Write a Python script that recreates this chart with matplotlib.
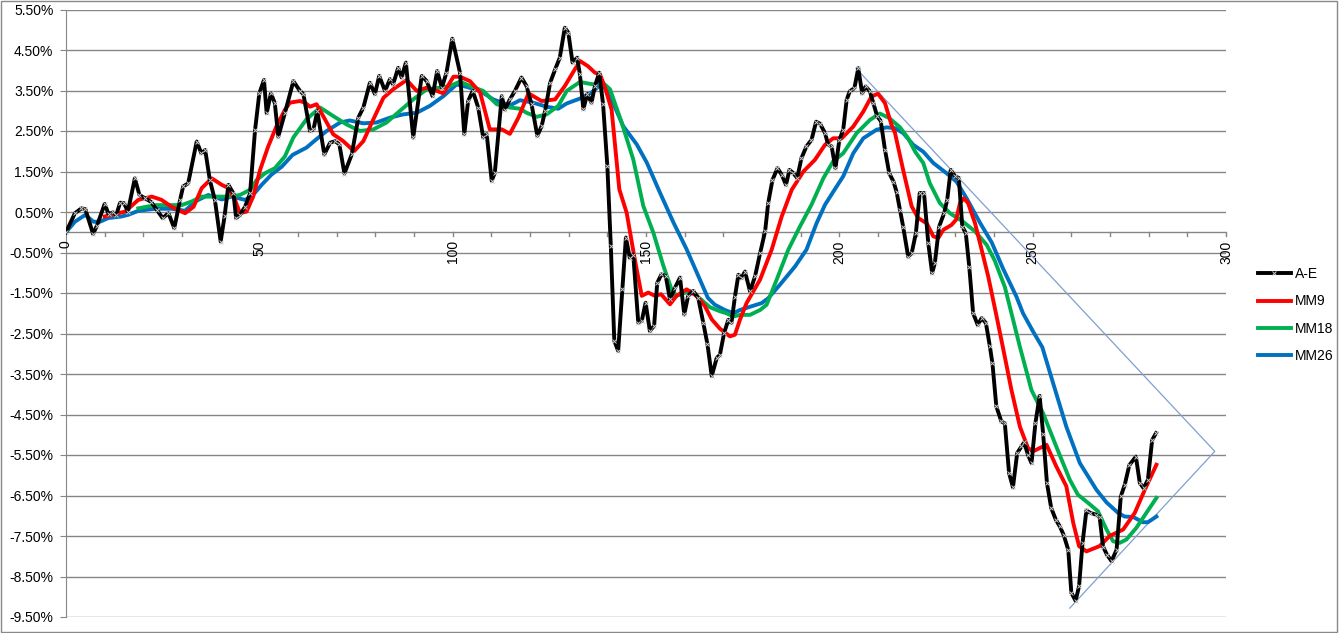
import matplotlib
matplotlib.use("Agg")
import matplotlib.pyplot as plt
from matplotlib.lines import Line2D
from matplotlib.patches import Rectangle
import numpy as np

plt.rcParams['font.family'] = ['Liberation Sans', 'DejaVu Sans']

# A-E series, vertices (x index, value in %)
ae_x = [0, 2.3, 4, 5, 7, 8, 10, 11, 12.2, 13, 14, 15, 16, 17.8, 19, 20.4, 22, 23.5, 25, 26.5,
        28, 29.5, 30.3, 31.6, 33.8, 35, 36, 37.2, 38.5, 40, 41, 42, 43.3, 44, 45, 46.3, 47.6,
        48.9, 50, 51.2, 51.9, 53, 54, 54.9, 56.6, 58.8, 60.5, 61.4, 63.1, 64, 65, 66.8, 68.3,
        69.6, 70.7, 72, 73.9, 75.6, 76.9, 78.6, 79.9, 81, 82.5, 83.8, 84.6, 85.9, 86.8, 87.9,
        89.8, 92, 93.3, 94.8, 96, 97.2, 98.4, 99.9, 101.9, 103, 104, 105.2, 106.6, 107.9, 108.8,
        110.1, 110.9, 112.7, 113.5, 114.8, 116.1, 117.8, 119.1, 120.4, 121.9, 123, 123.9, 125.2,
        126.5, 127.7, 129, 129.9, 131, 132.2, 132.9, 133.8, 134.8, 135.9, 136.8, 137.9, 138.9,
        140, 140.9, 141.8, 142.8, 143.9, 144.8, 145.8, 146.7, 148, 148.9, 149.9, 151, 152.1,
        152.9, 154, 155.1, 156.2, 157.5, 158.8, 159.9, 160.9, 162.2, 163.5, 164.8, 165.9, 167,
        168.3, 169.1, 170.2, 171.3, 172.1, 173, 173.9, 174.7, 175.6, 176.9, 178.2, 179.5, 180.8,
        181.6, 182.7, 184, 185.1, 186.2, 187.1, 188.1, 189.1, 190.2, 191.5, 192.8, 194, 195,
        196.3, 197.1, 198, 199, 200, 201, 201.9, 202.7, 203.9, 204.9, 205.9, 206.8, 207.9, 208.8,
        209.8, 210.7, 211.8, 212.9, 214, 214.8, 215.7, 216.5, 217.8, 218.7, 219.8, 220.8, 221.9,
        223, 224, 224.7, 225.8, 227.1, 227.9, 228.8, 229.9, 230.9, 231.8, 232.7, 233.6, 234.6,
        235.8, 236.8, 237.9, 238.9, 239.6, 240.6, 241.9, 242.8, 243.9, 244.9, 246, 247.1, 247.8,
        248.8, 249.7, 250.7, 251.8, 252.7, 253.7, 254.8, 256, 257, 258, 259.2, 260, 261.1, 262,
        262.9, 263.9, 264.9, 266.3, 267.3, 268.2, 269.2, 270.4, 271.7, 272.8, 273.8, 275, 276.7,
        277.7, 278.7, 279.8, 280.9, 281.9]
ae_y = [0, 0.47, 0.59, 0.57, -0.04, 0.16, 0.70, 0.45, 0.49, 0.43, 0.73, 0.72, 0.51, 1.33, 0.92,
        0.84, 0.75, 0.55, 0.35, 0.47, 0.10, 0.80, 1.13, 1.21, 2.24, 1.95, 2.03, 1.29, 0.80, -0.23,
        0.39, 1.17, 0.96, 0.35, 0.43, 0.63, 0.96, 2.53, 3.43, 3.76, 2.94, 3.43, 3.19, 2.36, 2.94,
        3.73, 3.49, 3.41, 2.50, 2.54, 2.99, 1.92, 2.21, 2.25, 2.17, 1.45, 1.92, 2.83, 3.08, 3.69,
        3.41, 3.86, 3.49, 3.78, 3.65, 4.06, 3.82, 4.19, 2.34, 3.86, 3.73, 3.36, 3.98, 3.57, 3.94,
        4.78, 3.94, 2.42, 3.24, 3.49, 3.08, 2.34, 2.42, 1.27, 1.47, 3.36, 3.03, 3.28, 3.49, 3.82,
        3.61, 3.16, 2.38, 2.62, 2.99, 3.69, 4.02, 4.31, 5.05, 4.93, 4.19, 4.31, 3.90, 3.04, 3.41,
        3.20, 3.61, 3.94, 3.16, 1.64, -0.34, -2.68, -2.93, -1.41, -0.13, -0.63, -0.55, -2.23,
        -2.19, -1.74, -2.44, -2.31, -1.25, -1.04, -1.08, -1.66, -1.37, -1.12, -2.03, -1.57, -1.45,
        -1.62, -2.23, -2.77, -3.55, -3.10, -3.03, -2.49, -2.16, -2.24, -1.59, -1.05, -1.13, -0.97,
        -1.46, -1.09, -0.52, 0.02, 0.72, 1.29, 1.58, 1.42, 1.17, 1.54, 1.46, 1.34, 1.83, 2.12,
        2.28, 2.73, 2.68, 2.45, 2.16, 2.12, 1.58, 2.28, 2.53, 3.27, 3.48, 3.56, 4.05, 3.43, 3.60,
        3.48, 3.19, 2.86, 2.75, 2.04, 1.46, 1.25, 1.00, 0.55, 0.14, -0.60, -0.52, -0.02, 0.97,
        0.97, -0.27, -1.01, -0.76, 0.14, 0.47, 0.80, 1.54, 1.38, 1.34, 0.14, -0.02, -0.85, -2.00,
        -2.29, -2.12, -2.24, -2.80, -3.24, -4.30, -4.67, -4.72, -5.95, -6.30, -5.45, -5.29, -5.19,
        -5.50, -5.70, -4.72, -4.04, -4.97, -6.20, -6.81, -7.10, -7.26, -7.47, -7.84, -8.90, -9.10,
        -8.74, -7.67, -6.87, -6.93, -6.97, -7.02, -7.76, -7.96, -8.12, -7.84, -6.52, -6.24, -5.75,
        -5.54, -6.19, -6.32, -6.11, -5.13, -4.96]

mm9_x = [10, 15.3, 18.7, 22.2, 24.7, 27.3, 30.8, 33, 35.1, 37.7, 40.3, 42, 43.7, 45, 46.7, 48.4,
         50.2, 52.3, 54.4, 56.6, 57.9, 60.5, 61.8, 63.1, 64.8, 66.5, 69.1, 71.7, 74.5, 76.9, 79.5,
         82.1, 84.6, 88.1, 90.7, 93.3, 95.9, 97.6, 100.2, 101.9, 104.5, 107.1, 109.6, 112.7, 114.8,
         117, 119.6, 123, 126.5, 129, 132.9, 135, 136.8, 138.1, 139.4, 141.1, 143.1, 145, 147.1,
         148.9, 150.6, 152.3, 153.9, 156.2, 157.9, 160.5, 163.1, 165.2, 167, 169.1, 171.7, 173,
         174.3, 176, 179.5, 182.5, 185.1, 187.7, 190.7, 193.7, 196.3, 198.4, 200.6, 203.6, 206.2,
         208.3, 210, 211.8, 213.5, 214.4, 216.5, 218.7, 220.4, 222.6, 224.3, 225.6, 226.9, 229,
         230.2, 231.2, 232.2, 233.3, 235.1, 236.8, 238.5, 240.5, 242.3, 244.5, 246.7, 248.8,
         250.1, 251.8, 253.6, 256.1, 258.7, 260.5, 262, 263.9, 267.3, 269.9, 273.4, 276.4, 279, 282]
mm9_y = [0.39, 0.51, 0.80, 0.88, 0.80, 0.63, 0.47, 0.63, 1.09, 1.33, 1.17, 1.09, 0.80, 0.47, 0.51,
         0.88, 1.54, 2.12, 2.61, 3.02, 3.20, 3.24, 3.20, 3.10, 3.16, 2.87, 2.42, 2.25, 2.00, 2.25,
         2.79, 3.32, 3.53, 3.76, 3.49, 3.57, 3.49, 3.43, 3.84, 3.84, 3.73, 3.45, 2.54, 2.54, 2.43,
         2.83, 3.43, 3.24, 3.28, 3.61, 4.23, 4.10, 3.94, 3.90, 3.57, 3.03, 1.06, 0.48, -0.67,
         -1.57, -1.49, -1.57, -1.53, -1.78, -1.57, -1.41, -1.57, -1.82, -2.15, -2.38, -2.57,
         -2.53, -2.16, -1.75, -1.17, -0.43, 0.39, 1.05, 1.50, 1.79, 2.16, 2.32, 2.32, 2.61, 2.98,
         3.35, 3.42, 3.19, 2.65, 2.45, 1.54, 0.64, 0.35, 0.22, -0.10, -0.14, 0.06, 0.18, 0.31,
         0.72, 0.84, 0.72, 0.22, -0.43, -1.09, -2.00, -2.84, -3.89, -4.80, -5.33, -5.41, -5.33,
         -5.25, -5.78, -6.27, -7.18, -7.75, -7.88, -7.75, -7.50, -7.34, -6.93, -6.36, -5.74]

mm18_x = [18.7, 23, 26.5, 29.9, 32.5, 35.1, 38.5, 42, 45, 47.6, 49.3, 51.5, 54, 56.6, 58.8, 62.2,
          65.7, 69.1, 72.6, 76, 79.5, 82.9, 86.4, 89.8, 93.3, 96.7, 99.3, 101.9, 104.5, 107.9,
          111.4, 114.8, 117.4, 119.1, 121.7, 124.3, 127.3, 129.5, 132.9, 136.4, 138.5, 140.7,
          143.7, 146.7, 149.3, 151.9, 154.5, 156.6, 157.9, 161.4, 164, 166.5, 169.1, 170.8, 172.6,
          174.3, 176.9, 179.5, 181.2, 183.8, 186.8, 189.8, 192.8, 195.9, 198.4, 201, 204.5, 208,
          210.5, 212.9, 215.7, 217.8, 219.6, 221.7, 223.4, 226, 228.6, 232, 235.1, 238.1, 240.2,
          242.8, 246.7, 249.7, 252.7, 256.1, 259.6, 261.7, 264.3, 266.9, 269.1, 270.8, 272.5,
          274.2, 276.8, 279.4, 282]
mm18_y = [0.59, 0.67, 0.67, 0.67, 0.76, 0.88, 0.88, 0.88, 0.92, 1.05, 1.29, 1.46, 1.58, 1.87,
          2.34, 2.79, 3.08, 2.87, 2.66, 2.50, 2.54, 2.71, 3.00, 3.28, 3.53, 3.57, 3.61, 3.72, 3.61,
          3.49, 3.16, 3.08, 3.05, 2.95, 2.85, 2.91, 3.12, 3.49, 3.71, 3.65, 3.72, 3.53, 2.71, 1.80,
          0.65, -0.01, -0.83, -1.41, -1.57, -1.45, -1.64, -1.85, -1.95, -2.00, -2.08, -2.04,
          -2.04, -1.92, -1.79, -1.17, -0.43, 0.14, 0.68, 1.34, 1.75, 1.95, 2.45, 2.78, 2.93, 2.82,
          2.59, 2.32, 1.99, 1.71, 1.21, 0.72, 0.47, 0.26, 0.02, -0.31, -0.70, -1.35, -2.83, -3.90,
          -4.47, -5.29, -6.11, -6.48, -6.68, -6.89, -7.34, -7.63, -7.67, -7.59, -7.30, -6.93, -6.56]

mm26_x = [0, 2.3, 5, 7.1, 8.8, 10.9, 14.4, 16.1, 18.7, 23, 27.3, 30.8, 33.4, 36.8, 40.3, 42.8,
          46.3, 48, 50.6, 53.1, 55.8, 58.6, 62.2, 64.8, 67.4, 70.9, 73.4, 76.9, 80.3, 83.8, 87.2,
          90.7, 94.1, 97.6, 101, 103.6, 107.1, 110.5, 114.8, 117.4, 120.8, 124.3, 127.3, 129.5,
          132.9, 135.9, 138.1, 139.8, 142, 144.1, 147.6, 150.2, 153.6, 157.1, 160.5, 163.9, 166,
          167.8, 170.4, 172.6, 174.3, 176.9, 179.9, 181.6, 184.6, 188.5, 191.5, 194.1, 196.3,
          199.3, 201, 203.6, 206.2, 209.6, 212.2, 214.4, 216.5, 219.1, 221.7, 224.3, 227.7, 230.3,
          232.9, 236.4, 239.4, 242.3, 245.8, 247.5, 250.1, 252.5, 255.3, 258.7, 262.2, 266.5,
          269.1, 272.1, 273.8, 276, 278.5, 279.8, 282]
mm26_y = [0, 0.26, 0.43, 0.26, 0.26, 0.35, 0.39, 0.43, 0.53, 0.58, 0.58, 0.53, 0.76, 0.92, 0.81,
          0.88, 0.80, 0.88, 1.17, 1.42, 1.62, 1.91, 2.09, 2.30, 2.50, 2.71, 2.76, 2.69, 2.71, 2.83,
          2.91, 2.95, 3.12, 3.36, 3.65, 3.59, 3.49, 3.28, 3.13, 3.26, 3.20, 3.10, 3.05, 3.18, 3.30,
          3.45, 3.63, 3.53, 3.08, 2.62, 2.17, 1.72, 0.98, 0.24, -0.42, -1.16, -1.62, -1.79, -1.92,
          -2.00, -1.92, -1.84, -1.75, -1.63, -1.30, -0.85, -0.43, 0.22, 0.68, 1.13, 1.38, 1.95,
          2.32, 2.53, 2.59, 2.57, 2.45, 2.16, 1.99, 1.71, 1.46, 1.25, 0.84, 0.23, -0.25, -0.89,
          -1.59, -2.00, -2.45, -2.84, -3.73, -4.80, -5.70, -6.36, -6.67, -6.93, -7.02, -7.03,
          -7.16, -7.16, -7.02]

# hand-drawn trend triangle
tri_x = [204.3, 297.1, 259.6]
tri_y = [4.05, -5.41, -9.28]

fig = plt.figure(figsize=(13.39, 6.33), dpi=100)
ax = fig.add_axes([66 / 1339, 1 - 617 / 633, (1226 - 66) / 1339, (617 - 9.5) / 633])

grid_col = '#868686'
yticks = np.arange(-9.5, 5.6, 1.0)
for yv in yticks:
    ax.axhline(yv, color=grid_col, lw=1.0, zorder=1)
ax.axhline(0, color=grid_col, lw=1.0, zorder=1)

ax.plot(tri_x, tri_y, color='#7fa0d0', lw=0.9, zorder=2)
ax.plot(mm26_x, mm26_y, color='#0070C0', lw=2.8, zorder=3)
ax.plot(mm18_x, mm18_y, color='#00B050', lw=2.8, zorder=4)
ax.plot(mm9_x, mm9_y, color='#FF0000', lw=2.8, zorder=5)
ax.plot(ae_x, ae_y, color='black', lw=2.8, zorder=6,
        marker='x', ms=3, mec='#c8c8c8', mew=0.7)

ax.set_xlim(0, 300)
ax.set_ylim(-9.5, 5.5)
ax.set_yticks(yticks)
ax.set_yticklabels(['%.2f%%' % v for v in yticks], fontsize=10)
ax.tick_params(axis='y', length=4, color=grid_col, pad=5)

for s in ['top', 'right', 'bottom']:
    ax.spines[s].set_visible(False)
ax.spines['left'].set_color(grid_col)

# x tick marks along the zero line, labels rotated
for xv in range(10, 301, 10):
    ax.plot([xv, xv], [0, -0.1], color=grid_col, lw=1.0, zorder=1, clip_on=False)
ax.set_xticks([])
for xv in range(0, 301, 50):
    ax.text(xv, -0.2, str(xv), rotation=90, ha='center', va='top', fontsize=10)

handles = [Line2D([], [], color='black', lw=2.8, marker='x', ms=3, mec='#c8c8c8', mew=0.7),
           Line2D([], [], color='#FF0000', lw=2.8),
           Line2D([], [], color='#00B050', lw=2.8),
           Line2D([], [], color='#0070C0', lw=2.8)]
fig.legend(handles, ['A-E', 'MM9', 'MM18', 'MM26'], loc='center left',
           bbox_to_anchor=(1245 / 1339, 1 - 315 / 633), frameon=False, fontsize=10,
           handlelength=2.4, labelspacing=0.95, handletextpad=0.3)

fig.patches.append(Rectangle((0.0005, 0.001), 0.998, 0.997, transform=fig.transFigure,
                             fill=False, edgecolor='#898989', lw=1.0))

fig.savefig('out.png', dpi=100)
